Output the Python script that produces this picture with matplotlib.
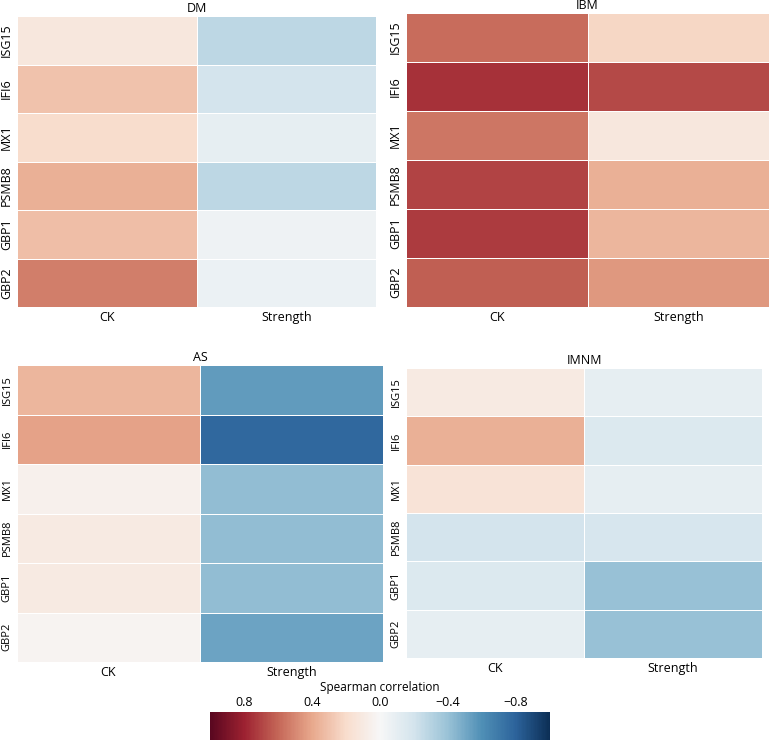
import numpy as np
import matplotlib
matplotlib.use("Agg")
import matplotlib.pyplot as plt
from matplotlib.colors import ListedColormap

plt.rcParams['font.family'] = ['Open Sans', 'DejaVu Sans']

genes = ["ISG15", "IFI6", "MX1", "PSMB8", "GBP1", "GBP2"]
measures = ["CK", "Strength"]

# Spearman correlations, one list per panel and measure
dm_ck = [0.12, 0.30, 0.20, 0.37, 0.32, 0.53]
dm_strength = [-0.28, -0.20, -0.10, -0.28, -0.05, -0.07]
ibm_ck = [0.58, 0.75, 0.55, 0.70, 0.72, 0.62]
ibm_strength = [0.22, 0.68, 0.12, 0.37, 0.35, 0.45]
as_ck = [0.35, 0.42, 0.05, 0.10, 0.10, 0.03]
as_strength = [-0.55, -0.78, -0.42, -0.42, -0.42, -0.52]
imnm_ck = [0.10, 0.37, 0.15, -0.20, -0.15, -0.10]
imnm_strength = [-0.10, -0.15, -0.10, -0.18, -0.40, -0.40]

panels = [
    ("DM", dm_ck, dm_strength, [17/770, 1-307/742, 359/770, 291/742], 9),
    ("IBM", ibm_ck, ibm_strength, [406/770, 1-307/742, 363/770, 294/742], 9),
    ("AS", as_ck, as_strength, [17/770, 1-662/742, 366/770, 297/742], 8),
    ("IMNM", imnm_ck, imnm_strength, [406/770, 1-658/742, 356/770, 290/742], 8),
]

# RdBu_r, a bit washed out like the printed figure
base = plt.get_cmap("RdBu_r")(np.linspace(0, 1, 256))[:, :3]
lum = base @ np.array([0.3, 0.59, 0.11])
muted = base * 0.8 + lum[:, None] * 0.2
cmap = ListedColormap(muted)

fig = plt.figure(figsize=(7.7, 7.42), dpi=100)

mesh = None
for title, ck, st, pos, fs in panels:
    ax = fig.add_axes(pos)
    data = np.column_stack([ck, st])
    mesh = ax.pcolormesh(data, cmap=cmap, vmin=-1, vmax=1,
                         edgecolors="white", linewidth=0.7)
    ax.set_xlim(0, 2)
    ax.set_ylim(6, 0)
    ax.set_xticks([0.5, 1.5])
    ax.set_xticklabels(measures, fontsize=9)
    ax.set_yticks(np.arange(6) + 0.5)
    ax.set_yticklabels(genes, rotation=90, va="center", fontsize=fs)
    ax.tick_params(length=0, pad=3)
    for s in ax.spines.values():
        s.set_visible(False)
    ax.set_title(title, fontsize=9, pad=3)

cax = fig.add_axes([210/770, 1-740/742, 340/770, 28/742])
cb = fig.colorbar(mesh, cax=cax, orientation="horizontal")
cb.set_ticks([0.8, 0.4, 0.0, -0.4, -0.8])
cb.set_ticklabels(["0.8", "0.4", "0.0", "\u22120.4", "\u22120.8"])
cax.invert_xaxis()
cax.xaxis.set_ticks_position("top")
cax.xaxis.set_label_position("top")
cax.tick_params(length=0, labelsize=9, pad=2)
cb.outline.set_visible(False)
cb.set_label("Spearman correlation", fontsize=8.5, labelpad=4)

fig.savefig("out.png", dpi=100)
